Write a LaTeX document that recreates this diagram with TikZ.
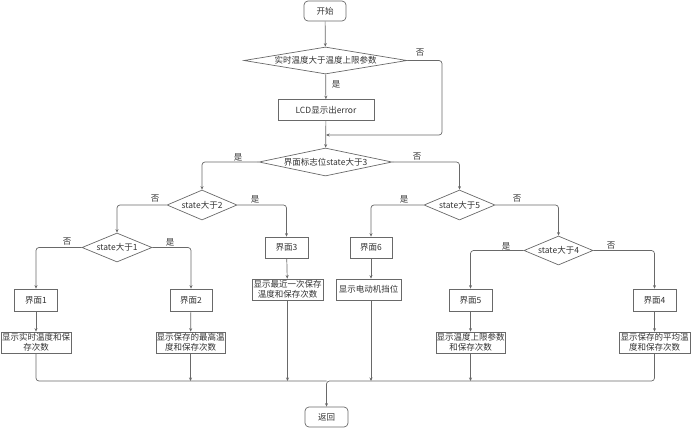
\documentclass[tikz,border=0pt]{standalone}
\usepackage{fontspec}
\setmainfont{Noto Sans CJK SC}
\usetikzlibrary{shapes.geometric,arrows.meta}
\definecolor{ln}{RGB}{105,105,105}
\definecolor{tx}{RGB}{50,50,50}
\begin{document}
\begin{tikzpicture}[x=1pt,y=-1pt,
  every node/.style={font=\fontsize{8.5}{10}\selectfont,text=tx},
  box/.style={draw=ln,line width=0.7pt,inner sep=0pt,align=center,minimum height=21pt},
  term/.style={box,rounded corners=4pt,minimum height=20pt,minimum width=42pt},
  dia/.style={draw=ln,line width=0.7pt,diamond,inner sep=0pt},
  conn/.style={draw=ln,line width=0.7pt,rounded corners=3pt,-{Stealth[length=3.5pt,width=3pt]}},
  plain/.style={draw=ln,line width=0.7pt,rounded corners=3pt},
  lab/.style={inner sep=0pt}]
\useasboundingbox (0,0) rectangle (691,429);
% nodes
\node[term] (start) at (325,11) {开始};
\node[dia,minimum width=163pt,minimum height=27pt,aspect=6] (d1) at (325.5,60.5) {实时温度大于温度上限参数};
\node[box,minimum width=96pt] (lcd) at (326,110) {LCD显示出error};
\node[dia,minimum width=133pt,minimum height=28pt,aspect=4.75] (d2) at (325.5,162) {界面标志位state大于3};
\node[dia,minimum width=70pt,minimum height=30pt,aspect=2.33] (d3) at (202,205) {state大于2};
\node[dia,minimum width=71pt,minimum height=30pt,aspect=2.36] (d5) at (459.5,205) {state大于5};
\node[dia,minimum width=70pt,minimum height=29pt,aspect=2.4] (d4) at (117,247.5) {state大于1};
\node[dia,minimum width=69pt,minimum height=29pt,aspect=2.38] (d6) at (558.5,250.5) {state大于4};
\node[box,minimum width=43pt] (s3) at (286.5,247.5) {界面3};
\node[box,minimum width=42pt] (s6) at (371,247.5) {界面6};
\node[box,minimum width=43pt,minimum height=22pt] (s1) at (36,300) {界面1};
\node[box,minimum width=42pt,minimum height=22pt] (s2) at (191,300) {界面2};
\node[box,minimum width=43pt,minimum height=22pt] (s5) at (470.5,300) {界面5};
\node[box,minimum width=43pt,minimum height=22pt] (s4) at (654.5,300) {界面4};
\node[box,minimum width=71pt] (t3) at (287.5,289.5) {显示最近一次保存\\温度和保存次数};
\node[box,minimum width=65pt] (t6) at (368.5,289.5) {显示电动机挡位};
\node[box,minimum width=70pt] (t1) at (36,342.5) {显示实时温度和保\\存次数};
\node[box,minimum width=69pt] (t2) at (190.5,342.5) {显示保存的最高温\\度和保存次数};
\node[box,minimum width=69pt] (t5) at (470.5,342.5) {显示温度上限参数\\和保存次数};
\node[box,minimum width=71pt] (t4) at (654.5,342.5) {显示保存的平均温\\度和保存次数};
\node[term,minimum width=43pt] (end) at (326.5,417) {返回};
\coordinate (c1) at (442,135);
\coordinate (m1) at (326,135);
\coordinate (j) at (326.5,381);
% labels
\node[lab] at (420,53) {否};
\node[lab] at (336,84) {是};
\node[lab] at (238,157) {是};
\node[lab] at (417,157) {否};
\node[lab] at (155,199) {否};
\node[lab] at (255,199) {是};
\node[lab] at (404,199) {是};
\node[lab] at (517,199) {否};
\node[lab] at (67,242) {否};
\node[lab] at (170,242) {是};
\node[lab] at (506,246) {是};
\node[lab] at (611,246) {否};
% connectors
\draw[conn] (start) -- (d1);
\draw[conn] (d1) -- (lcd);
\draw[conn] (d1.east) -| (c1) -- (m1);
\draw[conn] (lcd) -- (d2);
\draw[conn] (d2.west) -| (d3.north);
\draw[conn] (d2.east) -| (d5.north);
\draw[conn] (d3.west) -| (d4.north);
\draw[conn] (d3.east) -| (s3.north);
\draw[conn] (d4.west) -| (s1.north);
\draw[conn] (d4.east) -| (s2.north);
\draw[conn] (d5.west) -| (s6.north);
\draw[conn] (d5.east) -| (d6.north);
\draw[conn] (d6.west) -| (s5.north);
\draw[conn] (d6.east) -| (s4.north);
\draw[conn] (s1) -- (t1);
\draw[conn] (s2) -- (t2);
\draw[conn] (s3) -- (t3);
\draw[conn] (s6.south) -- (s6.south |- t6.north);
\draw[conn] (s5) -- (t5);
\draw[conn] (s4) -- (t4);
\draw[plain] (t1.south) |- (j);
\draw[conn] (t4.south) |- (j) -- (end.north);
\draw[conn] (t2.south) -- (t2.south |- j);
\draw[conn] (t3.south) -- (t3.south |- j);
\draw[conn] (t6.south -| s6) -- (s6 |- j);
\draw[conn] (t5.south) -- (t5.south |- j);
\end{tikzpicture}
\end{document}
